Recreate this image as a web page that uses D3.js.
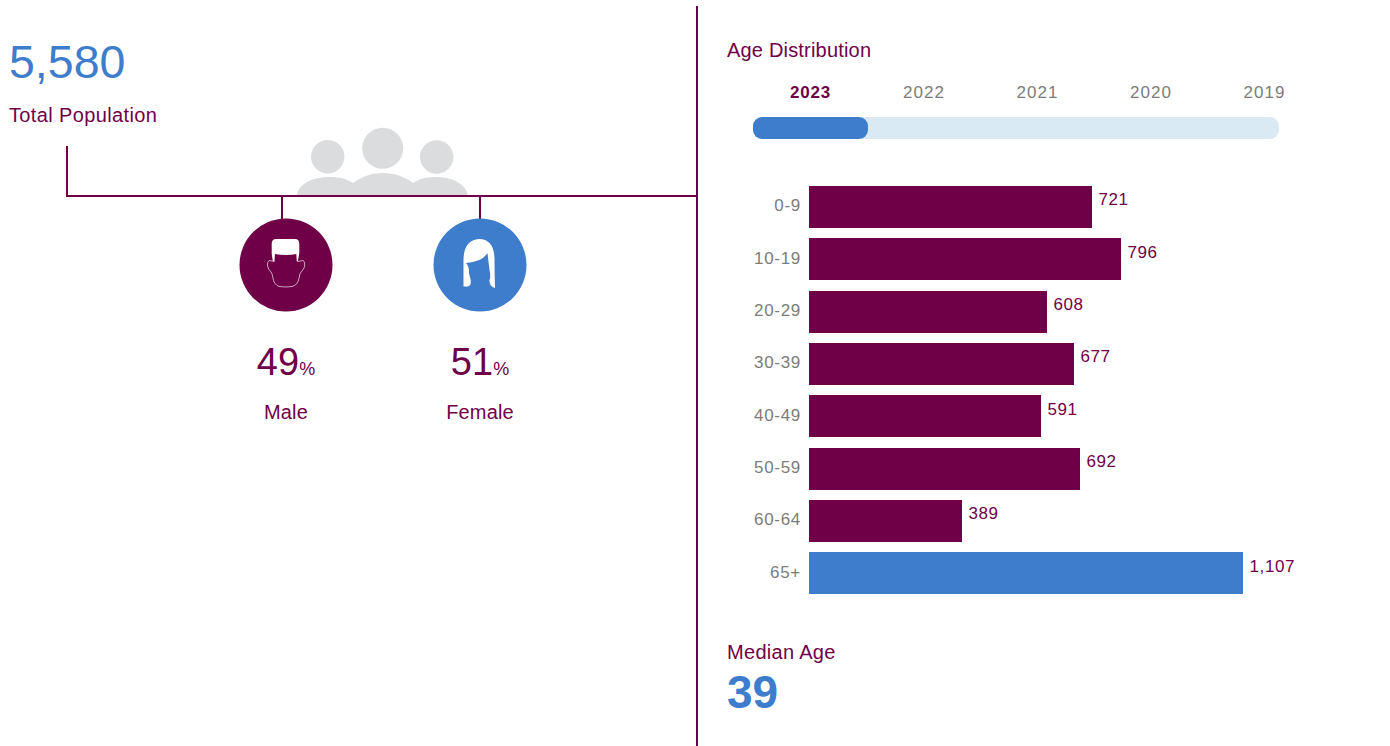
<!DOCTYPE html>
<html>
<head>
<meta charset="utf-8">
<script src="https://cdn.jsdelivr.net/npm/d3@7"></script>
<style>
  html, body { margin: 0; padding: 0; background: #fff; }
  svg { display: block; font-family: "Liberation Sans", Arial, sans-serif; }
  .axis path, .axis line { display: none; }
</style>
</head>
<body>
<div id="chart"></div>
<script>
const ageGroups = ["0-9", "10-19", "20-29", "30-39", "40-49", "50-59", "60-64", "65+"];
const ageValues = [721, 796, 608, 677, 591, 692, 389, 1107];
const years = ["2023", "2022", "2021", "2020", "2019"];
const selectedYear = "2023";
const totalPopulation = 5580;
const medianAge = 39;
const genders = ["Male", "Female"];
const genderShares = [49, 51];

const maroon = "#6f0048";
const blue = "#3d7dcb";
const grey = "#7c7c7c";

const svg = d3.select("#chart").append("svg")
  .attr("width", 1390)
  .attr("height", 746);

// left panel headline
svg.append("text")
  .attr("x", 9)
  .attr("y", 78)
  .attr("font-size", 46.5)
  .attr("fill", blue)
  .text(d3.format(",")(totalPopulation));
svg.append("text")
  .attr("x", 9)
  .attr("y", 122)
  .attr("font-size", 20)
  .attr("letter-spacing", 0.37)
  .attr("fill", maroon)
  .text("Total Population");

// people icon behind the connector
const people = svg.append("g").attr("fill", "#dbdcde");
people.append("circle").attr("cx", 327.7).attr("cy", 156.7).attr("r", 16.7);
people.append("circle").attr("cx", 382.7).attr("cy", 148.3).attr("r", 20.5);
people.append("circle").attr("cx", 436.7).attr("cy", 157).attr("r", 16.7);
people.append("path")
  .attr("d", "M297,196C298,184 312,177 330,177C340,177 347,179 353,183C361,177 371,173 383,173C395,173 405,177 413,183C419,179 426,177 435,177C453,177 466,184 468,196Z");

// connector lines
const conn = svg.append("g").attr("stroke", maroon).attr("stroke-width", 2).attr("fill", "none");
conn.append("path").attr("d", "M67,146V196H697");
conn.append("path").attr("d", "M697,6V746");
conn.append("path").attr("d", "M282,196V220");
conn.append("path").attr("d", "M480,196V220");

// gender circles
const genderX = d3.scalePoint().domain(genders).range([286, 480]);
const gender = svg.selectAll("g.gender")
  .data(genders)
  .enter()
  .append("g")
  .attr("class", "gender")
  .attr("transform", d => `translate(${genderX(d)},265)`);
gender.append("circle")
  .attr("r", 46.5)
  .attr("fill", (d, i) => i === 0 ? maroon : blue);

// male head
const male = gender.filter(d => d === "Male");
male.append("path")
  .attr("fill", "#fff")
  .attr("d", "M-14.3,-21Q-14.3,-26 -10,-26H9Q13.3,-26 13.3,-21V-12Q12.5,-7 11.8,-3.5H10.8L10.3,-11Q0,-9 -11,-11L-11.6,-3.5H-13Q-14,-8 -14.3,-12Z");
male.append("path")
  .attr("fill", "none")
  .attr("stroke", "#e3d0dc")
  .attr("stroke-width", 0.8)
  .attr("d", "M-11.6,-3.5L-17,-4.5Q-19,-3 -18.5,1Q-18,4 -15,7Q-13.5,9 -13,13Q-12.5,19 -7,21.5Q0,22.5 6,21.5Q12,20 13,13Q13.5,8 16,6Q19,3 18.8,-1Q18.5,-4 17,-4.5L11.8,-3.5");

// female head
const female = gender.filter(d => d === "Female");
female.append("path")
  .attr("fill", "#fff")
  .attr("d", "M-16.5,21.5Q-16.5,8 -16.5,-3Q-17,-25 -1,-26Q14,-26 14.5,-6Q14.5,8 15,23Q9,21 9.5,15Q11,12 9.5,5Q8.5,-3 7.5,-12Q2,-3 -14,-2Q-10.5,2 -11,8Q-10.5,11 -9.5,14Q-8,21 -13,21.5Z");

// gender shares
const shareText = gender.append("text")
  .attr("y", 110)
  .attr("text-anchor", "middle")
  .attr("fill", maroon);
shareText.append("tspan")
  .attr("font-size", 38)
  .text((d, i) => genderShares[i]);
shareText.append("tspan")
  .attr("font-size", 18)
  .text("%");
gender.append("text")
  .attr("y", 154)
  .attr("text-anchor", "middle")
  .attr("font-size", 20)
  .attr("letter-spacing", 0.15)
  .attr("fill", maroon)
  .text(d => d);

// right panel
svg.append("text")
  .attr("x", 727)
  .attr("y", 57)
  .attr("font-size", 20)
  .attr("letter-spacing", 0.19)
  .attr("fill", maroon)
  .text("Age Distribution");

// year slider
const yearX = d3.scalePoint().domain(years).range([810.5, 1264.5]);
svg.selectAll("text.year")
  .data(years)
  .enter()
  .append("text")
  .attr("class", "year")
  .attr("x", d => yearX(d))
  .attr("y", 98)
  .attr("text-anchor", "middle")
  .attr("font-size", 17)
  .attr("letter-spacing", d => d === selectedYear ? 0.75 : 1)
  .attr("font-weight", d => d === selectedYear ? "bold" : "normal")
  .attr("fill", d => d === selectedYear ? maroon : grey)
  .text(d => d);
svg.append("rect")
  .attr("x", 753).attr("y", 117)
  .attr("width", 526).attr("height", 22)
  .attr("rx", 9)
  .attr("fill", "#daeaf4");
svg.append("rect")
  .attr("x", 753).attr("y", 117)
  .attr("width", 115).attr("height", 22)
  .attr("rx", 9)
  .attr("fill", blue);

// age bars
const x = d3.scaleLinear().domain([0, 1107]).range([809, 1243]);
const y = d3.scaleBand().domain(ageGroups).range([186, 594]).paddingInner(0.2);

svg.selectAll("rect.bar")
  .data(ageGroups)
  .enter()
  .append("rect")
  .attr("class", "bar")
  .attr("x", x(0))
  .attr("y", d => Math.round(y(d)))
  .attr("width", (d, i) => Math.round(x(ageValues[i]) - x(0)))
  .attr("height", Math.round(y.bandwidth()))
  .attr("fill", d => d === "65+" ? blue : maroon);

svg.selectAll("text.value")
  .data(ageGroups)
  .enter()
  .append("text")
  .attr("class", "value")
  .attr("x", (d, i) => Math.round(x(ageValues[i])) + 6.5)
  .attr("y", d => y(d) + 19.4)
  .attr("font-size", 17)
  .attr("letter-spacing", 0.6)
  .attr("fill", maroon)
  .text((d, i) => d3.format(",")(ageValues[i]));

const yAxis = svg.append("g")
  .attr("class", "axis")
  .attr("transform", "translate(801,-1)")
  .call(d3.axisLeft(y).tickSize(0).tickPadding(0));
yAxis.selectAll("text")
  .attr("font-family", "Liberation Sans, Arial, sans-serif")
  .attr("font-size", 17)
  .attr("letter-spacing", 0.7)
  .attr("fill", grey);

// median age
svg.append("text")
  .attr("x", 727)
  .attr("y", 659)
  .attr("font-size", 20)
  .attr("letter-spacing", 0.3)
  .attr("fill", maroon)
  .text("Median Age");
svg.append("text")
  .attr("x", 727)
  .attr("y", 708)
  .attr("font-size", 46)
  .attr("font-weight", "bold")
  .attr("fill", blue)
  .text(medianAge);
</script>
</body>
</html>
